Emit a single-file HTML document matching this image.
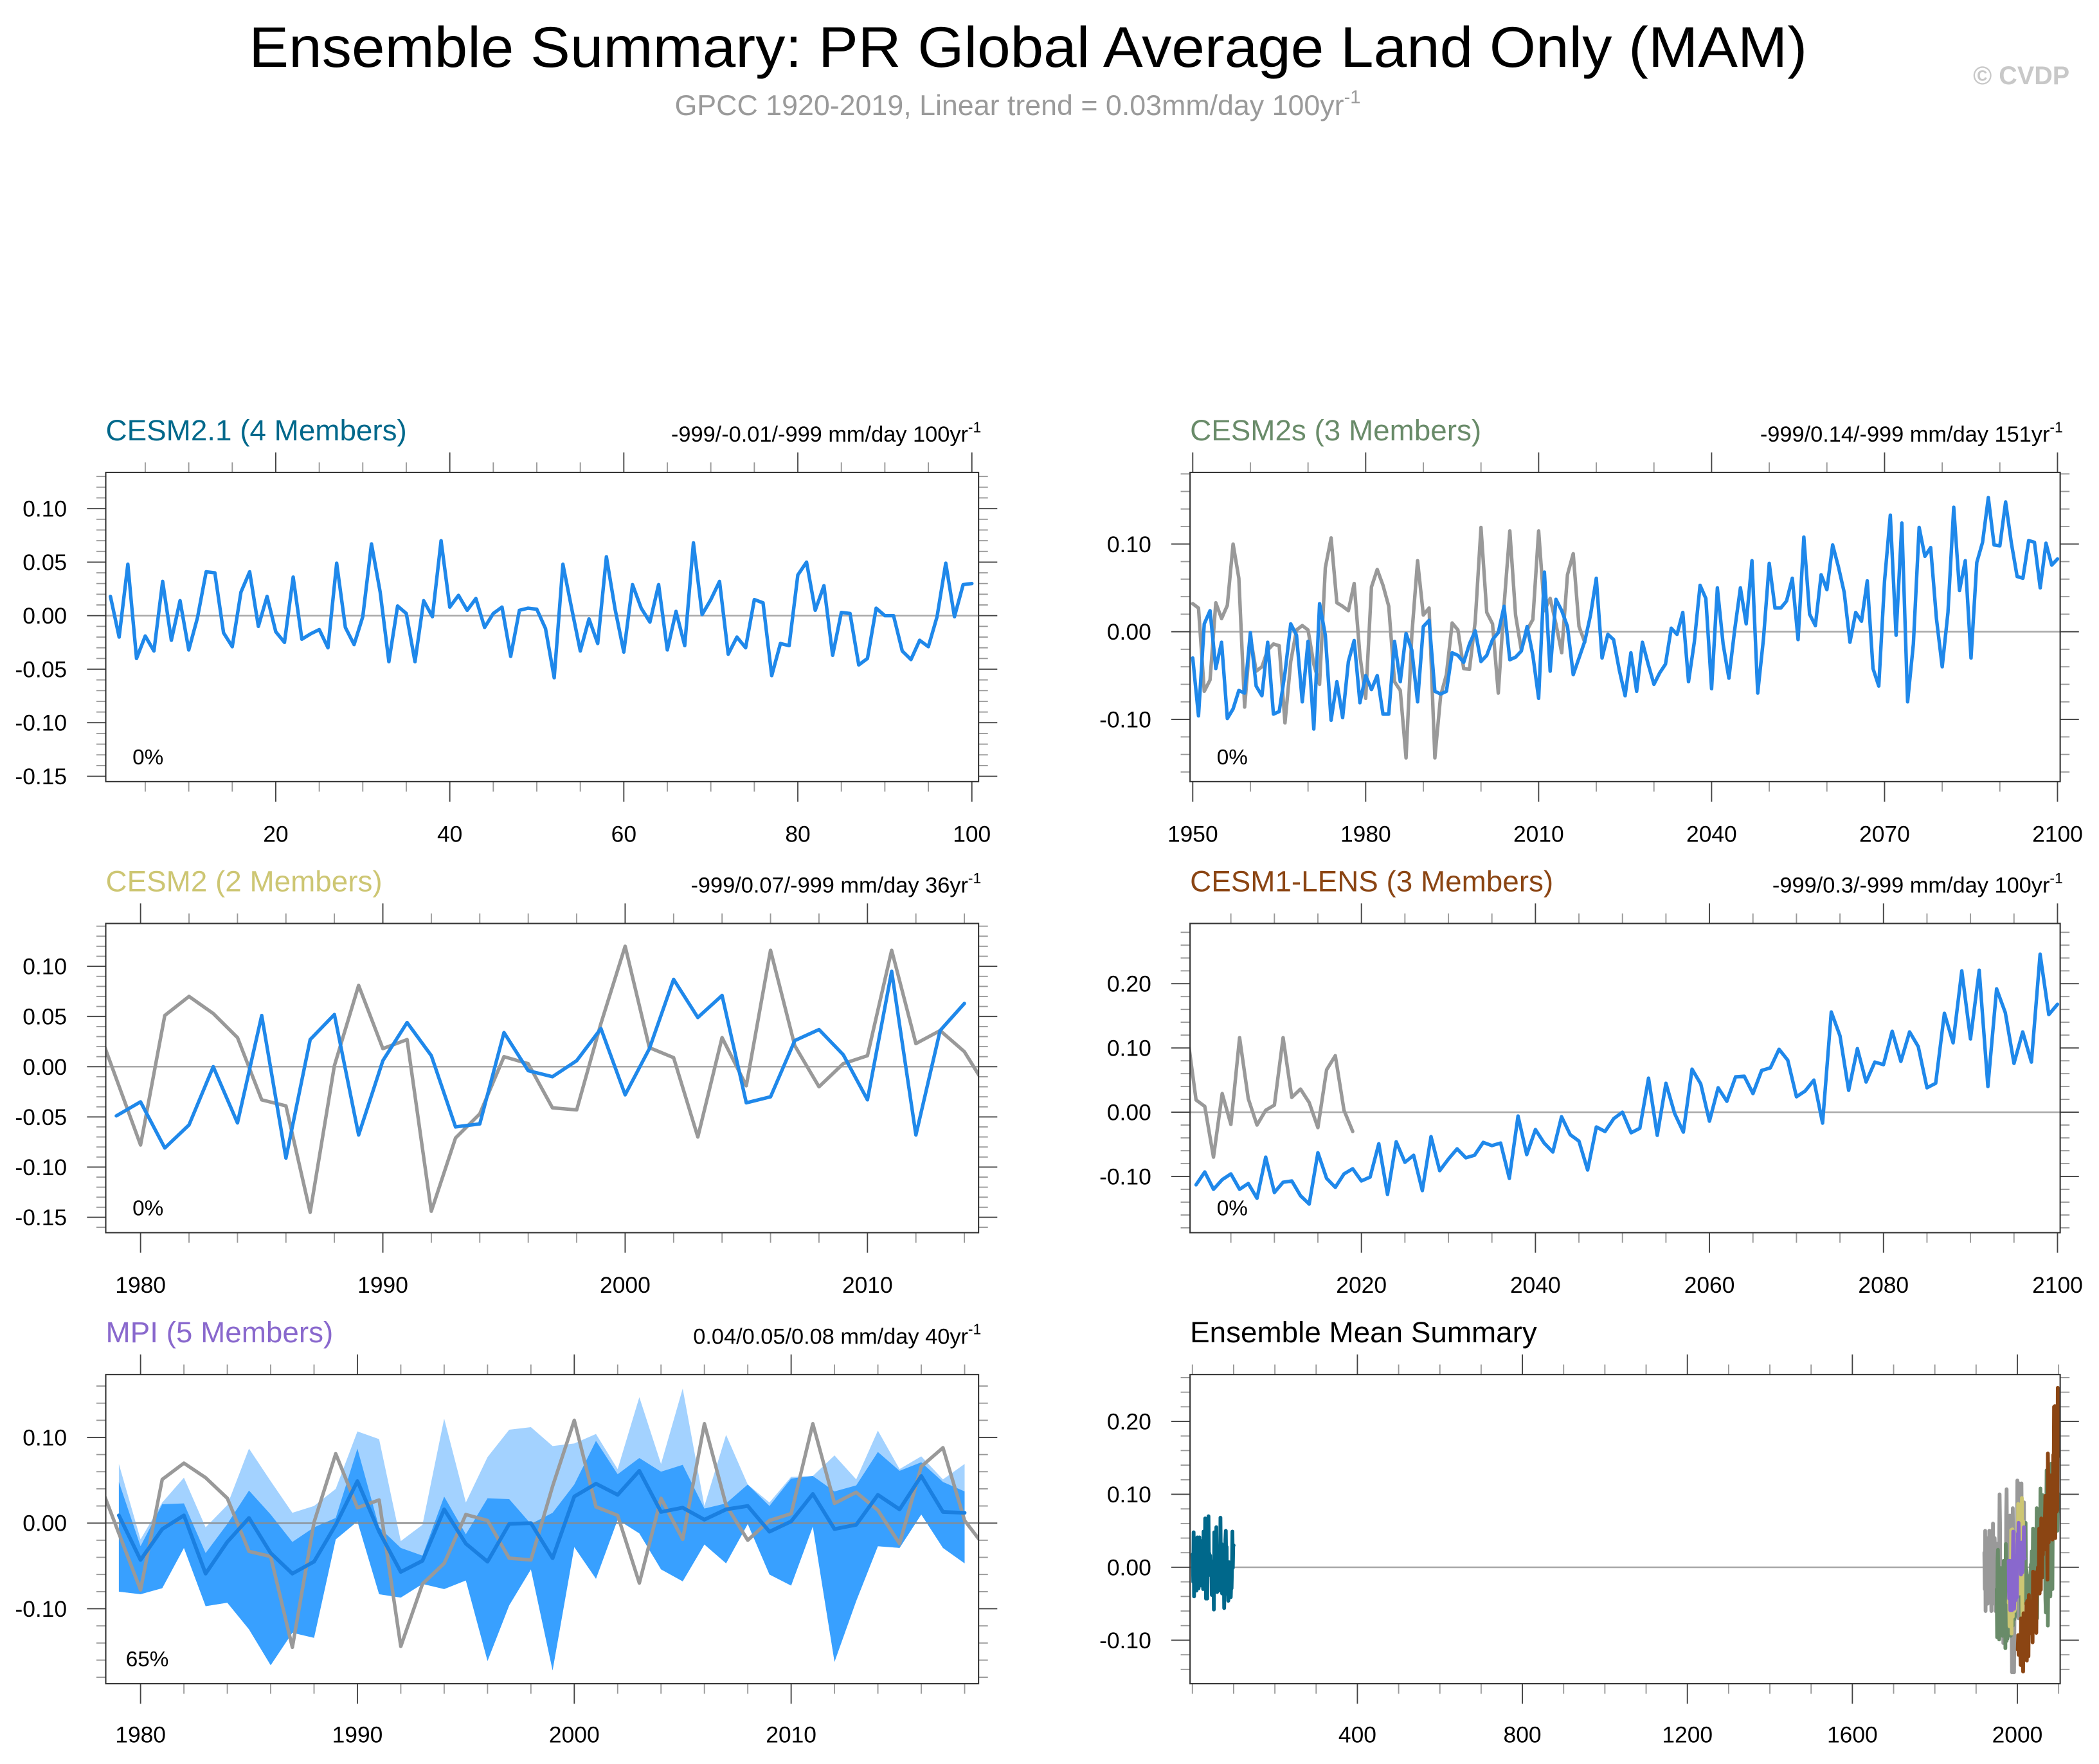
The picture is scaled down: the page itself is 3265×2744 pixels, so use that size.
<!DOCTYPE html>
<html><head><meta charset="utf-8"><title>Ensemble Summary</title>
<style>
html,body{margin:0;padding:0;background:#fff;}
svg{display:block;}
text{font-family:"Liberation Sans",Arial,sans-serif;}
</style></head>
<body>
<svg id="chart" xmlns="http://www.w3.org/2000/svg" width="3265" height="2744" viewBox="0 0 1568 1318" preserveAspectRatio="none">
<rect x="0" y="0" width="1568" height="1318" fill="#fff"/>
<text x="768" y="50" font-size="43" text-anchor="middle" fill="#000" textLength="1164" lengthAdjust="spacingAndGlyphs">Ensemble Summary: PR Global Average Land Only (MAM)</text>
<text x="504" y="86" font-size="21.5" fill="#9a9a9a">GPCC 1920-2019, Linear trend = 0.03mm/day 100yr<tspan dy="-9" font-size="14">-1</tspan></text>
<text x="1546" y="63" font-size="19" font-weight="bold" fill="#c8c8c8" text-anchor="end">© CVDP</text>
</svg>
<script>
// ---------------- DATA ----------------
const cesm21Start = 1;
const cesm21Mean = [0.018,-0.02,0.048,-0.04,-0.019,-0.033,0.032,-0.023,0.014,-0.032,-0.002,0.041,0.040,-0.016,-0.029,0.022,0.041,-0.01,0.018,-0.015,-0.025,0.036,-0.022,-0.017,-0.013,-0.030,0.049,-0.011,-0.027,-0.001,0.067,0.022,-0.043,0.009,0.002,-0.043,0.014,-0.001,0.070,0.008,0.019,0.005,0.016,-0.011,0.002,0.008,-0.038,0.005,0.007,0.006,-0.012,-0.058,0.048,0.007,-0.033,-0.003,-0.026,0.055,0.006,-0.034,0.029,0.007,-0.006,0.029,-0.032,0.004,-0.028,0.068,0.001,0.015,0.032,-0.036,-0.02,-0.03,0.015,0.012,-0.056,-0.026,-0.028,0.038,0.05,0.005,0.028,-0.037,0.003,0.002,-0.046,-0.04,0.007,0.0,0.0,-0.033,-0.041,-0.023,-0.029,-0.001,0.049,-0.001,0.029,0.03];

const cesm2sStart = 1950;
const cesm2sMean = [-0.03,-0.096,0.009,0.024,-0.042,-0.012,-0.099,-0.088,-0.067,-0.07,-0.001,-0.062,-0.073,-0.012,-0.094,-0.091,-0.047,0.009,-0.004,-0.08,-0.011,-0.111,0.032,-0.004,-0.101,-0.057,-0.098,-0.034,-0.01,-0.081,-0.05,-0.066,-0.05,-0.094,-0.094,-0.011,-0.057,-0.002,-0.021,-0.08,0.006,0.013,-0.068,-0.071,-0.068,-0.024,-0.027,-0.035,-0.014,0.001,-0.034,-0.027,-0.009,-0.001,0.029,-0.032,-0.029,-0.022,0.006,-0.027,-0.076,0.068,-0.045,0.037,0.024,0.006,-0.049,-0.03,-0.011,0.019,0.061,-0.03,-0.003,-0.009,-0.044,-0.073,-0.024,-0.068,-0.012,-0.037,-0.06,-0.047,-0.037,0.004,-0.003,0.022,-0.057,-0.012,0.053,0.038,-0.065,0.05,-0.014,-0.053,0.002,0.05,0.009,0.081,-0.07,-0.008,0.078,0.027,0.027,0.035,0.061,-0.009,0.108,0.02,0.007,0.065,0.048,0.099,0.074,0.045,-0.012,0.022,0.012,0.058,-0.042,-0.062,0.058,0.133,-0.004,0.124,-0.08,-0.014,0.119,0.086,0.096,0.015,-0.04,0.022,0.142,0.047,0.081,-0.03,0.079,0.102,0.153,0.099,0.098,0.148,0.101,0.063,0.061,0.104,0.102,0.05,0.101,0.076,0.083];
const obsP2Start = 1950;
const obsP2 = [0.032,0.027,-0.068,-0.055,0.033,0.015,0.03,0.1,0.061,-0.086,-0.006,-0.045,-0.04,-0.021,-0.014,-0.016,-0.104,-0.034,0.002,0.007,0.002,-0.037,-0.06,0.073,0.107,0.033,0.029,0.024,0.055,-0.027,-0.076,0.051,0.071,0.053,0.029,-0.057,-0.067,-0.144,-0.004,0.081,0.019,0.027,-0.144,-0.073,-0.049,0.01,0.002,-0.042,-0.043,0.012,0.119,0.022,0.009,-0.07,0.03,0.115,0.019,-0.021,0.002,0.014,0.115,0.024,0.038,0.009,-0.024,0.065,0.089,0.006,-0.012];

const cesm2Start = 1979;
const cesm2Mean = [-0.049,-0.035,-0.081,-0.058,0.0,-0.056,0.051,-0.091,0.027,0.052,-0.068,0.006,0.044,0.011,-0.06,-0.057,0.034,-0.004,-0.01,0.006,0.038,-0.028,0.018,0.087,0.049,0.071,-0.036,-0.03,0.026,0.037,0.012,-0.033,0.095,-0.068,0.036,0.063];

const obsStart = 1978;
const obsRecent = [0.054,-0.012,-0.078,0.051,0.07,0.053,0.029,-0.033,-0.039,-0.145,0.001,0.081,0.018,0.027,-0.144,-0.071,-0.047,0.01,0.003,-0.041,-0.043,0.043,0.12,0.019,0.009,-0.07,0.029,-0.019,0.116,0.021,-0.02,0.003,0.011,0.116,0.023,0.036,0.015,-0.024,0.066,0.088,0.003,-0.03];

const lensStart = 2001;
const lensMean = [-0.113,-0.093,-0.12,-0.105,-0.096,-0.12,-0.111,-0.134,-0.07,-0.125,-0.109,-0.107,-0.13,-0.143,-0.063,-0.103,-0.117,-0.096,-0.088,-0.107,-0.101,-0.049,-0.128,-0.046,-0.078,-0.067,-0.122,-0.038,-0.091,-0.073,-0.057,-0.071,-0.067,-0.047,-0.052,-0.048,-0.103,-0.006,-0.066,-0.027,-0.048,-0.062,-0.007,-0.035,-0.045,-0.09,-0.023,-0.03,-0.01,0.0,-0.032,-0.025,0.053,-0.036,0.045,-0.002,-0.031,0.067,0.044,-0.014,0.038,0.017,0.055,0.056,0.029,0.065,0.069,0.098,0.081,0.024,0.033,0.05,-0.017,0.156,0.119,0.034,0.099,0.047,0.078,0.074,0.126,0.079,0.125,0.102,0.038,0.045,0.154,0.108,0.22,0.114,0.221,0.04,0.192,0.155,0.076,0.125,0.078,0.246,0.152,0.168];

const mpiStart = 1979;
const mpiMean = [0.009,-0.043,-0.007,0.009,-0.059,-0.022,0.006,-0.035,-0.059,-0.045,-0.002,0.049,-0.01,-0.057,-0.044,0.016,-0.024,-0.045,-0.001,0.0,-0.041,0.031,0.046,0.033,0.061,0.013,0.018,0.004,0.016,0.02,-0.01,0.002,0.034,-0.007,-0.002,0.033,0.016,0.055,0.013,0.012];
const mpiInnerUpper = [0.048,-0.027,0.022,0.023,-0.035,-0.001,0.038,0.01,-0.022,-0.005,0.006,0.087,-0.005,-0.029,-0.038,0.031,-0.013,0.029,0.028,-0.001,0.012,0.045,0.096,0.057,0.076,0.06,0.068,0.017,0.023,0.045,0.02,0.052,0.055,0.037,0.044,0.083,0.061,0.071,0.048,0.037];
const mpiLower = [-0.08,-0.083,-0.076,-0.029,-0.097,-0.093,-0.124,-0.166,-0.128,-0.134,-0.019,0.002,-0.083,-0.087,-0.071,-0.077,-0.067,-0.161,-0.096,-0.054,-0.172,-0.028,-0.065,0.004,-0.012,-0.054,-0.068,-0.025,-0.047,-0.001,-0.06,-0.073,-0.004,-0.162,-0.091,-0.027,-0.029,0.01,-0.029,-0.047];
const mpiOuterUpper = [0.069,-0.019,0.024,0.053,-0.005,0.021,0.087,0.049,0.012,0.02,0.04,0.107,0.098,-0.021,-0.002,0.122,0.024,0.077,0.109,0.112,0.09,0.093,0.104,0.063,0.147,0.069,0.157,0.02,0.103,0.045,0.024,0.054,0.055,0.079,0.051,0.108,0.063,0.078,0.051,0.069];

const obsEarlyStart = 1920;
const obsEarly = [0.02,-0.03,0.05,-0.06,0.01,0.04,-0.02,0.03,-0.05,0.04,0.0,-0.04,0.05,-0.01,0.02,-0.04,0.03,-0.06,0.05,0.01,-0.03,0.06,-0.02,0.0,-0.05,0.04,0.02,-0.06,0.03,0.01];

// ---------------- HELPERS ----------------
const NS = 'http://www.w3.org/2000/svg';
const svg = document.getElementById('chart');
function mk(tag, attrs, parent) {
  const e = document.createElementNS(NS, tag);
  for (const k in attrs) e.setAttribute(k, attrs[k]);
  (parent || svg).appendChild(e);
  return e;
}
function lin(a0, p0, a1, p1) { return v => p0 + (v - a0) * (p1 - p0) / (a1 - a0); }
function near(a, b) { return Math.abs(a - b) < 1e-6; }

let clipId = 0;
function panel(cfg) {
  const g = mk('g', {});
  
  
  const [L, T, R, B] = cfg.box;
  const X = lin(cfg.xa[0], cfg.xa[1], cfg.xa[2], cfg.xa[3]);
  const Y = lin(cfg.ya[0], cfg.ya[1], cfg.ya[2], cfg.ya[3]);
  const xInv = lin(cfg.xa[1], cfg.xa[0], cfg.xa[3], cfg.xa[2]);
  const yInv = lin(cfg.ya[1], cfg.ya[0], cfg.ya[3], cfg.ya[2]);
  const id = 'clip' + (clipId++);
  const cp = mk('clipPath', { id: id }, g);
  mk('rect', { x: L, y: T, width: R - L, height: B - T }, cp);
  const plot = mk('g', { 'clip-path': 'url(#' + id + ')' }, g);
  
  
  const z = mk('line', { x1: L, x2: R, y1: Y(0), y2: Y(0), stroke: '#a8a8a8', 'stroke-width': 1.2 }, plot);
  
  
  const ticks = mk('g', { stroke: '#555', 'stroke-width': 0.9 }, g);
  
  
  const x0 = xInv(L), x1v = xInv(R);
  for (let v = Math.ceil(x0 / cfg.xMinor) * cfg.xMinor; v <= x1v + 1e-9; v += cfg.xMinor) {
    const isMaj = cfg.xMajor.some(m => near(m, v));
    const len = isMaj ? 15 : 7.5;
    const px = X(v);
    const col = isMaj ? '#444' : '#999';
    mk('line', { x1: px, x2: px, y1: T, y2: T - len, stroke: col }, ticks);
    mk('line', { x1: px, x2: px, y1: B, y2: B + len, stroke: col }, ticks);
  }
  const ylo = yInv(B), yhi = yInv(T);
  for (let k = Math.ceil(ylo / cfg.yMinor - 1e-6); k * cfg.yMinor <= yhi + 1e-9; k++) {
    const v = k * cfg.yMinor;
    const isMaj = cfg.yMajor.some(m => near(m, v));
    const len = isMaj ? 14 : 7;
    const py = Y(v);
    const col = isMaj ? '#444' : '#999';
    mk('line', { x1: L, x2: L - len, y1: py, y2: py, stroke: col }, ticks);
    mk('line', { x1: R, x2: R + len, y1: py, y2: py, stroke: col }, ticks);
  }
  cfg.xMajor.forEach((v, i) => {
    const t = mk('text', { x: X(v), y: cfg.xLabelY, 'font-size': 17, 'text-anchor': 'middle', fill: '#000' }, g);
    t.textContent = cfg.xLabels[i];
    
    
  });
  cfg.yMajor.forEach((v, i) => {
    const t = mk('text', { x: cfg.yLabelX, y: Y(v) + 6, 'font-size': 17, 'text-anchor': 'end', fill: '#000' }, g);
    t.textContent = cfg.yLabels[i];
    
    
  });
  const tt = mk('text', { x: L, y: T - 24, 'font-size': 22, fill: cfg.titleColor }, g);
  tt.textContent = cfg.title;
  
  
  if (cfg.trend) {
    const tr = mk('text', { x: R + 2, y: T - 23, 'font-size': 16.5, 'text-anchor': 'end', fill: '#000' }, g);
    
    
    tr.appendChild(document.createTextNode(cfg.trend));
    const sup = mk('tspan', { dy: -7, 'font-size': 11 }, tr);
    sup.textContent = '-1';
  }
  if (cfg.pct) {
    const pt = mk('text', { x: cfg.pct[1], y: B - 13, 'font-size': 16, fill: '#000' }, g);
    pt.textContent = cfg.pct[0];
    
    
  }
  return { X, Y, plot, g, box: cfg.box };
}

function series(p, start, vals, color, width, name) {
  const pts = vals.map((v, i) => p.X(start + i).toFixed(2) + ',' + p.Y(v).toFixed(2)).join(' ');
  const pl = mk('polyline', { points: pts, fill: 'none', stroke: color, 'stroke-width': width, 'stroke-linejoin': 'round', 'stroke-linecap': 'round' }, p.plot);
  
  
  return pl;
}
function band(p, start, upper, lower, color, name) {
  const up = upper.map((v, i) => p.X(start + i).toFixed(2) + ',' + p.Y(v).toFixed(2));
  const lo = lower.map((v, i) => p.X(start + i).toFixed(2) + ',' + p.Y(v).toFixed(2)).reverse();
  const pg = mk('polygon', { points: up.concat(lo).join(' '), fill: color, stroke: 'none' }, p.plot);
  
  
}
function frame(p) {
  const [L, T, R, B] = p.box;
  const r = mk('rect', { x: L, y: T, width: R - L, height: B - T, fill: 'none', stroke: '#333', 'stroke-width': 1 }, p.g);
  
  
}

const BLUE = '#1f88ea', GRAY = '#999999';
const LW = 2.6;

const p1 = panel({ name: 'cesm21-panel', box: [79, 353, 731, 584], xa: [20, 206, 100, 726], ya: [0, 460, 0.05, 420],
  xMajor: [20, 40, 60, 80, 100], xLabels: ['20', '40', '60', '80', '100'], xMinor: 5, xLabelY: 629,
  yMajor: [0.10, 0.05, 0, -0.05, -0.10, -0.15], yLabels: ['0.10', '0.05', '0.00', '-0.05', '-0.10', '-0.15'], yMinor: 0.01, yLabelX: 50,
  title: 'CESM2.1 (4 Members)', titleColor: '#00688b', trend: '-999/-0.01/-999 mm/day 100yr', pct: ['0%', 99] });
series(p1, cesm21Start, cesm21Mean, BLUE, LW, 'cesm21-ensemble-mean-line');
frame(p1);

const p2 = panel({ name: 'cesm2s-panel', box: [889, 353, 1539, 584], xa: [1950, 891, 2100, 1537], ya: [0, 472, 0.10, 406.5],
  xMajor: [1950, 1980, 2010, 2040, 2070, 2100], xLabels: ['1950', '1980', '2010', '2040', '2070', '2100'], xMinor: 10, xLabelY: 629,
  yMajor: [0.10, 0, -0.10], yLabels: ['0.10', '0.00', '-0.10'], yMinor: 0.02, yLabelX: 860,
  title: 'CESM2s (3 Members)', titleColor: '#698b69', trend: '-999/0.14/-999 mm/day 151yr', pct: ['0%', 909] });
series(p2, obsP2Start, obsP2, GRAY, LW, 'observed-gpcc-line');
series(p2, cesm2sStart, cesm2sMean, BLUE, LW, 'cesm2s-ensemble-mean-line');
frame(p2);

const p3 = panel({ name: 'cesm2-panel', box: [79, 690, 731, 921], xa: [1980, 105, 2010, 648], ya: [0, 797, 0.05, 759.5],
  xMajor: [1980, 1990, 2000, 2010], xLabels: ['1980', '1990', '2000', '2010'], xMinor: 2, xLabelY: 966,
  yMajor: [0.10, 0.05, 0, -0.05, -0.10, -0.15], yLabels: ['0.10', '0.05', '0.00', '-0.05', '-0.10', '-0.15'], yMinor: 0.01, yLabelX: 50,
  title: 'CESM2 (2 Members)', titleColor: '#cdc673', trend: '-999/0.07/-999 mm/day 36yr', pct: ['0%', 99] });
series(p3, obsStart, obsRecent, GRAY, LW, 'observed-gpcc-line');
series(p3, cesm2Start, cesm2Mean, BLUE, LW, 'cesm2-ensemble-mean-line');
frame(p3);

const p4 = panel({ name: 'cesm1-lens-panel', box: [889, 690, 1539, 921], xa: [2020, 1017, 2100, 1537], ya: [0, 831, 0.10, 783],
  xMajor: [2020, 2040, 2060, 2080, 2100], xLabels: ['2020', '2040', '2060', '2080', '2100'], xMinor: 5, xLabelY: 966,
  yMajor: [0.20, 0.10, 0, -0.10], yLabels: ['0.20', '0.10', '0.00', '-0.10'], yMinor: 0.02, yLabelX: 860,
  title: 'CESM1-LENS (3 Members)', titleColor: '#8b4513', trend: '-999/0.3/-999 mm/day 100yr', pct: ['0%', 909] });
series(p4, obsStart, obsRecent, GRAY, LW, 'observed-gpcc-line');
series(p4, lensStart, lensMean, BLUE, LW, 'cesm1-lens-ensemble-mean-line');
frame(p4);

const p5 = panel({ name: 'mpi-panel', box: [79, 1027, 731, 1258], xa: [1980, 105, 2010, 591], ya: [0, 1138, 0.10, 1074],
  xMajor: [1980, 1990, 2000, 2010], xLabels: ['1980', '1990', '2000', '2010'], xMinor: 2, xLabelY: 1302,
  yMajor: [0.10, 0, -0.10], yLabels: ['0.10', '0.00', '-0.10'], yMinor: 0.02, yLabelX: 50,
  title: 'MPI (5 Members)', titleColor: '#8968cd', trend: '0.04/0.05/0.08 mm/day 40yr', pct: ['65%', 94] });
band(p5, mpiStart, mpiOuterUpper, mpiLower, '#a3d2ff', 'mpi-member-range-band');
band(p5, mpiStart, mpiInnerUpper, mpiLower, '#38a0ff', 'mpi-inner-range-band');
const z5 = mk('line', { x1: 79, x2: 731, y1: p5.Y(0), y2: p5.Y(0), stroke: '#8a8a8a', 'stroke-width': 1 }, p5.plot);


series(p5, obsStart, obsRecent, GRAY, LW, 'observed-gpcc-line');
series(p5, mpiStart, mpiMean, '#1a7fe0', 2.8, 'mpi-ensemble-mean-line');
frame(p5);

const p6 = panel({ name: 'ensemble-mean-summary-panel', box: [889, 1027, 1539, 1258], xa: [400, 1014, 2000, 1507], ya: [0, 1171, 0.10, 1116.5],
  xMajor: [400, 800, 1200, 1600, 2000], xLabels: ['400', '800', '1200', '1600', '2000'], xMinor: 100, xLabelY: 1302,
  yMajor: [0.20, 0.10, 0, -0.10], yLabels: ['0.20', '0.10', '0.00', '-0.10'], yMinor: 0.02, yLabelX: 860,
  title: 'Ensemble Mean Summary', titleColor: '#000', trend: null, pct: null });
series(p6, obsEarlyStart, obsEarly.concat(obsP2), GRAY, 2.8, 'summary-observed-line');
series(p6, cesm21Start, cesm21Mean, '#00688b', 2.8, 'summary-cesm21-line');
series(p6, cesm2sStart, cesm2sMean, '#698b69', 2.8, 'summary-cesm2s-line');
series(p6, cesm2Start, cesm2Mean, '#cdc673', 2.8, 'summary-cesm2-line');
series(p6, mpiStart, mpiMean, '#8968cd', 2.8, 'summary-mpi-line');
series(p6, lensStart, lensMean, '#8b4513', 2.8, 'summary-cesm1-lens-line');
frame(p6);
</script>
</body></html>
